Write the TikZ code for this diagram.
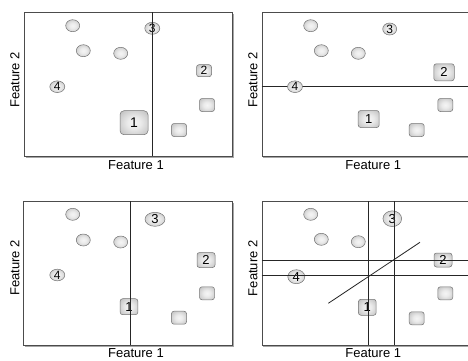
\documentclass[tikz,border=0pt]{standalone}
\usepackage{fontspec}
\setmainfont{Liberation Sans}
\usetikzlibrary{shapes.geometric}
\pgfdeclareradialshading{soft}{\pgfpoint{0bp}{0bp}}{color(0bp)=(black!4); color(12bp)=(black!8); color(28bp)=(black!20); color(40bp)=(black!32); color(50bp)=(black!42)}
\begin{document}
\begin{tikzpicture}[x=1pt,y=-1pt,
  panel/.style={draw=black!70,line width=0.8pt,fill=white},
  pshadow/.style={fill=black!35,draw=none},
  ball/.style={ellipse,draw=black!55,line width=0.5pt,inner sep=0pt,
    minimum width=14pt,minimum height=12pt,shading=soft,
    font=\fontsize{12}{12}\selectfont},
  sq/.style={rectangle,rounded corners=2.5pt,draw=black!55,line width=0.5pt,inner sep=0pt,
    minimum width=15pt,minimum height=13pt,shading=soft,
    font=\fontsize{12}{12}\selectfont},
  split/.style={draw=black!85,line width=0.8pt},
  axis/.style={font=\fontsize{13}{13}\selectfont,inner sep=0pt}]
\useasboundingbox (0,0) rectangle (468,360);
\clip (0,0) rectangle (468,360);
% ---------- Panel 1 ----------
\fill[pshadow] (25.5,13.5) rectangle (234,158);
\node[panel,minimum width=208pt,minimum height=144pt,inner sep=0pt,anchor=north west] (P1) at (24,12) {};
\node[ball] (a1) at (72.7,25.7) {};
\node[ball] (a2) at (83.3,50.7) {};
\node[ball] (a3) at (120.7,53.3) {};
\node[ball,minimum width=15pt,minimum height=10pt] (a4) at (57.3,86.7) {4};
\node[ball,minimum width=15pt,minimum height=10pt] (a5) at (152.3,28.3) {3};
\node[sq,minimum width=15pt,minimum height=12pt] (a6) at (204,70.7) {2};
\node[sq] (a7) at (207,105) {};
\node[sq,minimum width=28pt,minimum height=24pt,rounded corners=4pt,font=\fontsize{14}{14}\selectfont] (a8) at (134,122.7) {1};
\node[sq] (a9) at (179,130) {};
\coordinate (l1t) at (152.7,12);
\coordinate (l1b) at (152.7,156);
\draw[split] (l1t) -- (l1b);
\node[axis] (x1) at (136,165.5) {Feature 1};
\node[axis,rotate=90] (y1) at (15,80) {Feature 2};
% ---------- Panel 2 ----------
\fill[pshadow] (263.2,13.8) rectangle (480,157.5);
\node[panel,minimum width=220pt,minimum height=143.4pt,inner sep=0pt,anchor=north west] (P2) at (261.7,12.3) {};
\node[ball] (b1) at (310.7,25.7) {};
\node[ball] (b2) at (321.3,50.7) {};
\node[ball] (b3) at (358.3,53.3) {};
\node[ball,minimum width=14pt,minimum height=11pt] (b5) at (389.7,29) {3};
\node[sq,minimum width=20.5pt,minimum height=17pt,font=\fontsize{13}{13}\selectfont] (b6) at (444,72.3) {2};
\node[sq] (b7) at (445.3,105) {};
\node[sq,minimum width=21pt,minimum height=17pt,font=\fontsize{13}{13}\selectfont] (b8) at (368.7,119) {1};
\node[sq] (b9) at (416.7,130) {};
\coordinate (l2l) at (261.7,86);
\coordinate (l2r) at (480,86);
\draw[split] (l2l) -- (l2r);
\node[ball,minimum width=15pt,minimum height=10pt] (b4) at (295,86.7) {4};
\node[axis] (x2) at (373.3,165.5) {Feature 1};
\node[axis,rotate=90] (y2) at (253,80) {Feature 2};
% ---------- Panel 3 ----------
\fill[pshadow] (25,202.5) rectangle (234,347);
\node[panel,minimum width=209pt,minimum height=144pt,inner sep=0pt,anchor=north west] (P3) at (23.3,201) {};
\node[ball] (c1) at (72.7,214.3) {};
\node[ball] (c2) at (83.3,240) {};
\node[ball] (c3) at (120.7,242) {};
\node[ball,minimum width=15pt,minimum height=11pt] (c4) at (57.3,275) {4};
\node[ball,minimum width=20pt,minimum height=14pt,font=\fontsize{13}{13}\selectfont] (c5) at (155,219.3) {3};
\node[sq,minimum width=18pt,minimum height=15pt,font=\fontsize{13}{13}\selectfont] (c6) at (206,260) {2};
\node[sq] (c7) at (207,293.3) {};
\node[sq,minimum width=17.7pt,minimum height=16pt,font=\fontsize{13}{13}\selectfont] (c8) at (129,306.7) {1};
\node[sq] (c9) at (179,317.7) {};
\coordinate (l3t) at (130,201);
\coordinate (l3b) at (130,345);
\draw[split] (l3t) -- (l3b);
\node[axis] (x3) at (136,353.5) {Feature 1};
\node[axis,rotate=90] (y3) at (15,268) {Feature 2};
% ---------- Panel 4 ----------
\fill[pshadow] (263.2,202.5) rectangle (480,347);
\node[panel,minimum width=220pt,minimum height=144pt,inner sep=0pt,anchor=north west] (P4) at (261.7,201) {};
\node[ball] (d1) at (310.7,214.3) {};
\node[ball] (d2) at (321.3,239.3) {};
\node[ball] (d3) at (358.3,241.7) {};
\node[ball,minimum width=17pt,minimum height=14pt,font=\fontsize{13}{13}\selectfont] (d4) at (296.3,276.7) {4};
\node[ball,minimum width=18.7pt,minimum height=15.7pt,font=\fontsize{13}{13}\selectfont] (d5) at (392.3,218.7) {3};
\node[sq,minimum width=18pt,minimum height=14pt,font=\fontsize{13}{13}\selectfont] (d6) at (443,260) {2};
\node[sq] (d7) at (445.3,293.3) {};
\node[sq,minimum width=17.7pt,minimum height=16pt,font=\fontsize{13}{13}\selectfont] (d8) at (367.3,307.3) {1};
\node[sq] (d9) at (416.7,318.3) {};
\coordinate (v1t) at (368.5,201);
\coordinate (v1b) at (368.5,345);
\coordinate (v2t) at (394,201);
\coordinate (v2b) at (394,345);
\coordinate (h1l) at (261.7,260);
\coordinate (h1r) at (480,260);
\coordinate (h2l) at (261.7,275.7);
\coordinate (h2r) at (480,275.7);
\coordinate (dgA) at (328.3,303.3);
\coordinate (dgB) at (420,242.3);
\draw[split] (v1t) -- (v1b);
\draw[split] (v2t) -- (v2b);
\draw[split] (h1l) -- (h1r);
\draw[split] (h2l) -- (h2r);
\draw[split] (dgA) -- (dgB);
\node[axis] (x4) at (373.3,353.5) {Feature 1};
\node[axis,rotate=90] (y4) at (253,268.3) {Feature 2};
\end{tikzpicture}
\end{document}
